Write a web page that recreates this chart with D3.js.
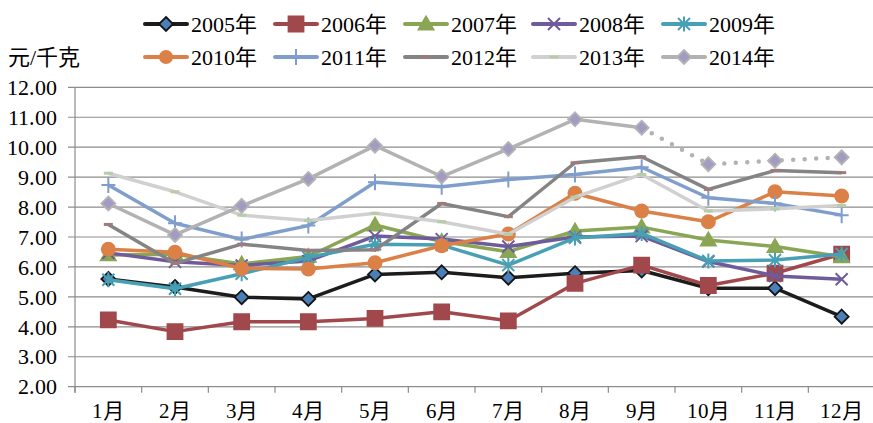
<!DOCTYPE html>
<html>
<head>
<meta charset="utf-8">
<script src="https://cdn.jsdelivr.net/npm/d3@7"></script>
<style>
  body { margin: 0; background: #fff; }
  @font-face {
    font-family: "ChartSerif";
    src: local("Liberation Serif"), local("LiberationSerif"), local("LiberationSerif-Regular"),
         local("DejaVu Serif"), local("DejaVuSerif");
  }
</style>
</head>
<body>
<svg id="chart" width="873" height="423"></svg>
<script>
var months = ["1月", "2月", "3月", "4月", "5月", "6月", "7月", "8月", "9月", "10月", "11月", "12月"];
var yTicks = [2, 3, 4, 5, 6, 7, 8, 9, 10, 11, 12];

var y2005 = [5.60, 5.33, 4.99, 4.93, 5.75, 5.82, 5.64, 5.79, 5.88, 5.29, 5.29, 4.34];
var y2006 = [4.23, 3.84, 4.17, 4.17, 4.28, 4.50, 4.20, 5.45, 6.06, 5.38, 5.79, 6.43];
var y2007 = [6.40, 6.42, 6.10, 6.35, 7.40, 6.85, 6.51, 7.20, 7.33, 6.90, 6.68, 6.34];
var y2008 = [6.47, 6.17, 6.05, 6.20, 7.03, 6.93, 6.68, 7.00, 7.03, 6.18, 5.70, 5.59];
var y2009 = [5.57, 5.27, 5.77, 6.32, 6.76, 6.73, 6.06, 6.97, 7.12, 6.20, 6.23, 6.43];
var y2010 = [6.59, 6.49, 5.95, 5.93, 6.14, 6.71, 7.10, 8.46, 7.87, 7.51, 8.51, 8.37];
var y2011 = [8.74, 7.46, 6.92, 7.38, 8.83, 8.68, 8.92, 9.09, 9.33, 8.31, 8.12, 7.73];
var y2012 = [7.42, 6.12, 6.76, 6.55, 6.57, 8.12, 7.68, 9.48, 9.68, 8.59, 9.22, 9.15];
var y2013 = [9.13, 8.51, 7.73, 7.55, 7.79, 7.51, 7.09, 8.33, 9.09, 7.87, 7.94, 8.05];
var y2014 = [8.12, 7.07, 8.04, 8.94, 10.05, 9.02, 9.94, 10.93, 10.65, 9.43, 9.55, 9.66];

var seriesNames = ["2005年", "2006年", "2007年", "2008年", "2009年", "2010年", "2011年", "2012年", "2013年", "2014年"];
var seriesValues = [y2005, y2006, y2007, y2008, y2009, y2010, y2011, y2012, y2013, y2014];
var lineColors = ["#1c1c1c", "#a0484b", "#8aa654", "#6f5b9b", "#47a0b3", "#db8147", "#7f9ecb", "#848484", "#d0d0d0", "#b2b2b2"];
var markerTypes = ["diamond", "square", "triangle", "x", "asterisk", "circle", "plus", "dash", "dash", "diamond"];
var markerFills = ["#4a7fb8", "#a0484b", "#8aa654", "#6f5b9b", "#47a0b3", "#db8147", "#7f9ecb", "#a07a7a", "#b8cca8", "#a39bc2"];
var markerStrokes = ["#141414", "#a0484b", "#8aa654", "#6f5b9b", "#47a0b3", "#db8147", "#7f9ecb", "#a07a7a", "#b8cca8", "#b4b4b4"];
var dottedFrom = 8; // 2014 after 9月 is dotted

var FONT = "ChartSerif, 'Liberation Serif', 'Times New Roman', 'Noto Sans CJK SC', serif";

var svg = d3.select("#chart");
var margin = { top: 87.3, left: 75, bottom: 386.7, right: 875 };

var x = d3.scaleBand().domain(months).range([margin.left, margin.right]);
var y = d3.scaleLinear().domain([2, 12]).range([margin.bottom, margin.top]);

function markerPath(type) {
    switch (type) {
        case "diamond": return "M0,-7L7,0L0,7L-7,0Z";
        case "square": return "M-7.5,-7.5H7.5V7.5H-7.5Z";
        case "triangle": return "M0,-7.5L7.5,5.5H-7.5Z";
        case "x": return "M-6,-6L6,6M-6,6L6,-6";
        case "asterisk": return "M-6,-6L6,6M-6,6L6,-6M0,-7.5V7.5";
        case "plus": return "M-7,0H7M0,-8V8";
        case "dash": return "M-4.5,0H4.5";
    }
}
function isOpen(type) {
    return type == "x" || type == "asterisk" || type == "plus" || type == "dash";
}

// grid lines
svg.append("g")
    .selectAll("line")
    .data(yTicks)
    .enter()
    .append("line")
    .attr("x1", margin.left - 7)
    .attr("x2", 873)
    .attr("y1", function(d) { return y(d); })
    .attr("y2", function(d) { return y(d); })
    .attr("stroke", "#8c8c8c")
    .attr("stroke-width", 1.2);

// y labels
svg.append("g")
    .selectAll("text")
    .data(yTicks)
    .enter()
    .append("text")
    .attr("x", 57)
    .attr("y", function(d) { return y(d); })
    .attr("dy", "0.35em")
    .attr("text-anchor", "end")
    .style("font-family", FONT)
    .style("font-size", "22px")
    .text(function(d) { return d.toFixed(2); });

// left axis line
svg.append("line")
    .attr("x1", margin.left).attr("x2", margin.left)
    .attr("y1", y(12)).attr("y2", y(2) + 6)
    .attr("stroke", "#8c8c8c").attr("stroke-width", 1.2);

// x ticks at band edges
svg.append("g")
    .selectAll("line")
    .data(months)
    .enter()
    .append("line")
    .attr("x1", function(d) { return x(d); })
    .attr("x2", function(d) { return x(d); })
    .attr("y1", y(2))
    .attr("y2", y(2) + 6)
    .attr("stroke", "#8c8c8c")
    .attr("stroke-width", 1.2);

svg.append("g")
    .selectAll("text")
    .data(months)
    .enter()
    .append("text")
    .attr("x", function(d) { return x(d) + x.bandwidth() / 2; })
    .attr("y", 411)
    .attr("dy", "0.35em")
    .attr("text-anchor", "middle")
    .style("font-family", FONT)
    .style("font-size", "21px")
    .text(function(d) { return d; });

// unit label
svg.append("text")
    .attr("x", 8).attr("y", 57).attr("dy", "0.35em")
    .style("font-family", FONT)
    .style("font-size", "22px")
    .text("元/千克");

var line = d3.line()
    .x(function(d) { return x(d.m) + x.bandwidth() / 2; })
    .y(function(d) { return y(d.v); });

seriesValues.forEach(function(vals, i) {
    var pts = vals.map(function(v, j) { return { m: months[j], v: v }; });
    var g = svg.append("g");
    if (i == 9) {
        g.append("path")
            .attr("d", line(pts.slice(0, dottedFrom + 1)))
            .attr("fill", "none").attr("stroke", lineColors[i])
            .attr("stroke-width", 3.5).attr("stroke-linejoin", "round");
        g.append("path")
            .attr("d", line(pts.slice(dottedFrom)))
            .attr("fill", "none").attr("stroke", lineColors[i])
            .attr("stroke-width", 4.5).attr("stroke-linecap", "round")
            .attr("stroke-dasharray", "0 11.5");
    } else {
        g.append("path")
            .attr("d", line(pts))
            .attr("fill", "none").attr("stroke", lineColors[i])
            .attr("stroke-width", 3.5).attr("stroke-linejoin", "round");
    }
    var t = markerTypes[i];
    g.selectAll(".mk")
        .data(pts)
        .enter()
        .append(t == "circle" ? "circle" : "path")
        .attr("class", "mk")
        .each(function(d) {
            var el = d3.select(this);
            var cx = x(d.m) + x.bandwidth() / 2, cy = y(d.v);
            if (t == "circle") {
                el.attr("cx", cx).attr("cy", cy).attr("r", 7.5).attr("fill", markerFills[i]);
            } else {
                el.attr("d", markerPath(t))
                    .attr("transform", "translate(" + cx + "," + cy + ")")
                    .attr("fill", isOpen(t) ? "none" : markerFills[i])
                    .attr("stroke", markerStrokes[i])
                    .attr("stroke-width", t == "dash" ? 3 : (isOpen(t) ? 2 : 1.8));
            }
        });
});

// legend
var legendX = [145, 275, 405, 533, 663];
var legendY = [24, 57];
seriesNames.forEach(function(name, i) {
    var lx = legendX[i % 5], ly = legendY[Math.floor(i / 5)];
    var g = svg.append("g");
    g.append("line")
        .attr("x1", lx).attr("x2", lx + 42)
        .attr("y1", ly).attr("y2", ly)
        .attr("stroke", lineColors[i]).attr("stroke-width", 4)
        .attr("stroke-linecap", "round");
    var t = markerTypes[i];
    if (t == "circle") {
        g.append("circle").attr("cx", lx + 21).attr("cy", ly).attr("r", 7).attr("fill", markerFills[i]);
    } else {
        g.append("path")
            .attr("d", markerPath(t))
            .attr("transform", "translate(" + (lx + 21) + "," + ly + ")")
            .attr("fill", isOpen(t) ? "none" : markerFills[i])
            .attr("stroke", markerStrokes[i])
            .attr("stroke-width", t == "dash" ? 3 : (isOpen(t) ? 2 : 1.8));
    }
    g.append("text")
        .attr("x", lx + 46).attr("y", ly).attr("dy", "0.35em")
        .style("font-family", FONT)
        .style("font-size", "22px")
        .text(name);
});
</script>
</body>
</html>
